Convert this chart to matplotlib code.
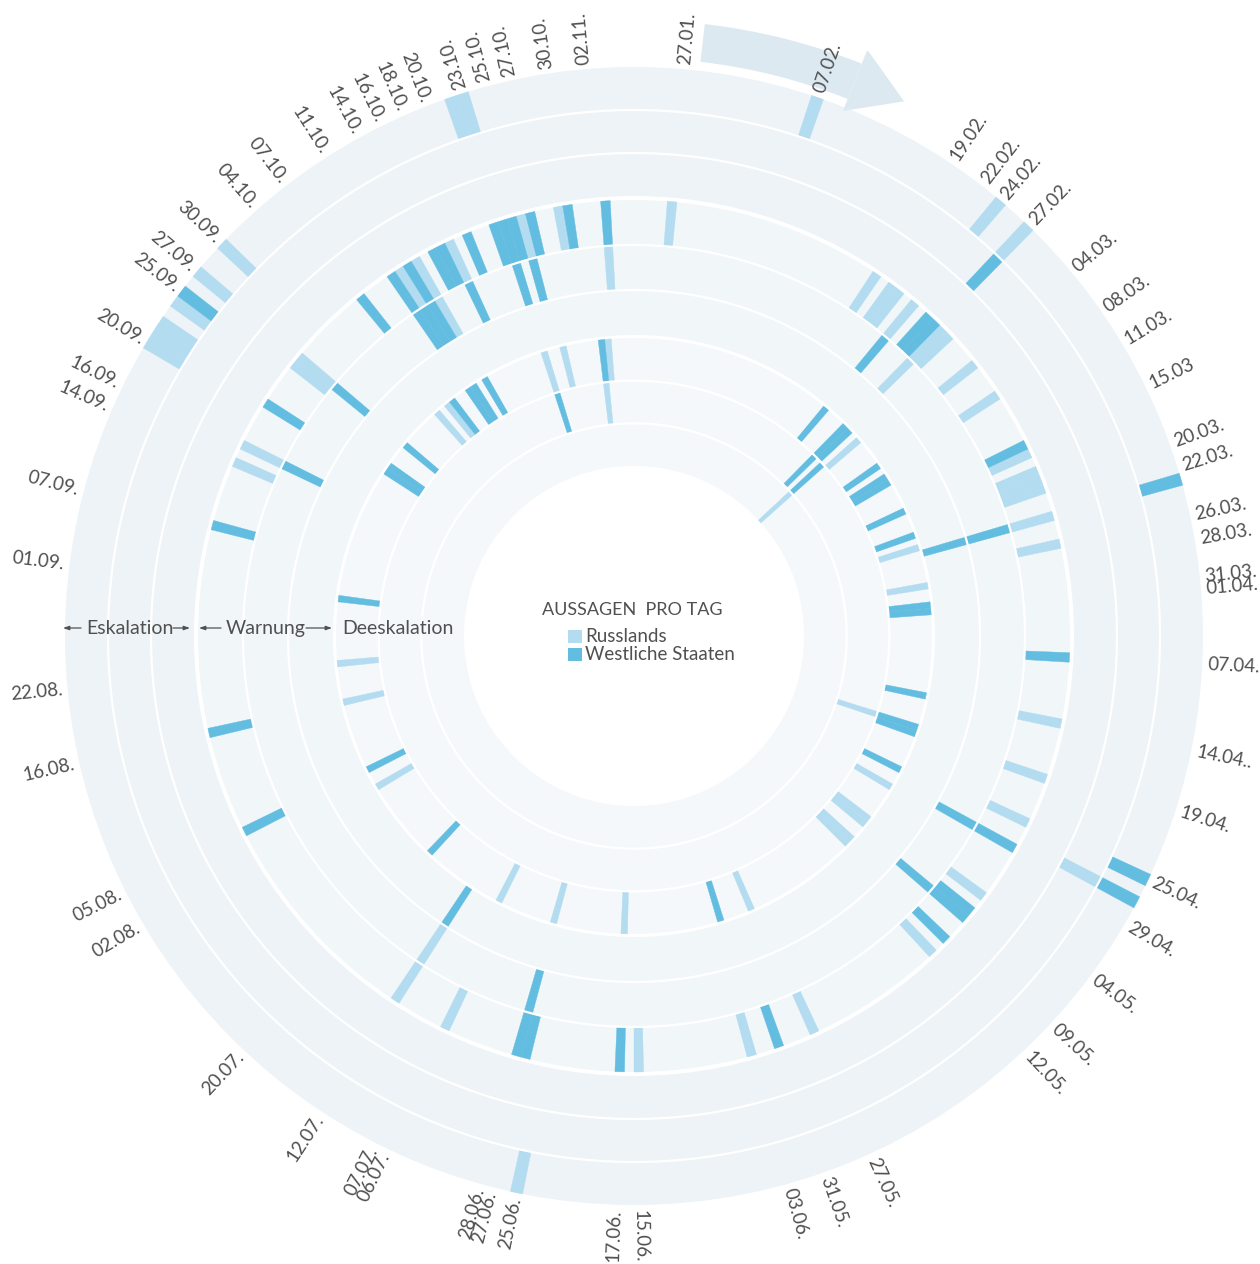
"""
Radial timeline: statements per day by Russia and Western states,
sorted into the rings Eskalation / Warnung / Deeskalation.
Output: out.png
"""
from datetime import datetime

import numpy as np
import matplotlib
matplotlib.use("Agg")
import matplotlib.pyplot as plt
from matplotlib.patches import Rectangle


# ── Data: one list per ring, stack slot (1 = outermost) and speaker ──────────

esk1_ru = ["07.02", "24.02", "27.02", "25.06", "20.09", "21.09", "22.09",
           "24.09", "27.09", "30.09", "22.10", "23.10"]
esk1_we = ["23.03", "25.04", "27.04", "25.09"]
esk2_ru = ["27.04"]
esk2_we = ["27.02"]

warn1_ru = ["27.01", "19.02", "21.02", "22.02", "24.02", "28.02", "01.03",
            "05.03", "09.03", "16.03", "18.03", "19.03", "20.03", "23.03",
            "26.03", "14.04", "20.04", "25.04", "04.05", "12.05", "27.05",
            "03.06", "15.06", "06.07", "12.07", "14.09", "16.09", "26.09",
            "27.09", "11.10", "13.10", "17.10", "25.10", "29.10"]
warn1_we = ["26.02", "27.02", "15.03", "07.04", "28.04", "06.05", "07.05",
            "10.05", "31.05", "17.06", "27.06", "28.06", "05.08", "16.08",
            "07.09", "21.09", "06.10", "10.10", "12.10", "15.10", "16.10",
            "19.10", "22.10", "23.10", "24.10", "26.10", "30.10", "03.11"]
warn2_ru = ["28.02", "12.07", "13.10", "03.11"]
warn2_we = ["24.02", "23.03", "28.04", "07.05", "28.06", "16.09", "27.09",
            "10.10", "11.10", "12.10", "17.10", "23.10", "25.10"]
warn3_we = ["23.03", "12.07"]

dees1_ru = ["03.03", "22.03", "28.03", "29.04", "05.05", "06.05", "09.05",
            "10.05", "28.05", "17.06", "28.06", "07.07", "02.08", "16.08",
            "22.08", "04.10", "06.10", "23.10", "26.10", "02.11"]
dees1_we = ["24.02", "28.02", "01.03", "08.03", "10.03", "11.03", "16.03",
            "20.03", "31.03", "01.04", "14.04", "19.04", "20.04", "26.04",
            "02.06", "20.07", "05.08", "01.09", "22.09", "23.09", "27.09",
            "07.10", "10.10", "11.10", "13.10", "01.11"]
dees2_ru = ["19.04", "01.11"]
dees2_we = ["28.02", "02.03", "23.10"]
dees3_ru = ["02.03"]

date_labels = [
    "27.01.", "07.02.", "19.02.", "22.02.", "24.02.", "27.02.", "04.03.",
    "08.03.", "11.03.", "15.03", "20.03.", "22.03.", "26.03.", "28.03.",
    "31.03.", "01.04.", "07.04.", "14.04..", "19.04.", "25.04.", "29.04.",
    "04.05.", "09.05.", "12.05.", "27.05.", "31.05.", "03.06.", "15.06.",
    "17.06.", "25.06.", "27.06.", "28.06.", "06.07.", "07.07.", "12.07.",
    "20.07.", "02.08.", "05.08.", "16.08.", "22.08.", "01.09.", "07.09.",
    "14.09.", "16.09.", "20.09.", "25.09.", "27.09.", "30.09.", "04.10.",
    "07.10.", "11.10.", "14.10.", "16.10.", "18.10.", "20.10.", "23.10.",
    "25.10.", "27.10.", "30.10.", "02.11.",
]

band_names = ["Eskalation", "Warnung", "Deeskalation"]


# ── Style / layout ───────────────────────────────────────────────────────────

FONT = ["Lato", "DejaVu Sans"]
TEXT = "#505050"
RU_COLOR = "#b3dcf0"
WE_COLOR = "#62bde0"
RING_BG = ["#edf3f6", "#f1f6f9", "#f5f8fa"]
ARROW = "#dce9f1"

START_DOY = 23          # 23.01. sits at 12 o'clock
DAYS_ON_CIRCLE = 287
DAY = 2 * np.pi / DAYS_ON_CIRCLE

BAND_OUTER = [569, 436, 298]
BAND_INNER = [440, 301, 170]

W, H = 1260, 1264
CX, CY = 634, 636       # centre of the rings in image pixels
RMAX = 630


def doy(s):
    return datetime.strptime(s[:5] + ".2022", "%d.%m.%Y").timetuple().tm_yday


def angle_deg(s):
    return (doy(s) - START_DOY) * 360 / DAYS_ON_CIRCLE


def slot_span(band, slot):
    h = (BAND_OUTER[band] - BAND_INNER[band]) / 3
    top = BAND_OUTER[band] - (slot - 1) * h
    return top - h, h


def draw_marks(ax, dates, band, slot, color):
    bottom, h = slot_span(band, slot)
    th = [np.deg2rad(angle_deg(d)) for d in dates]
    ax.bar(th, h, width=DAY, bottom=bottom, color=color,
           edgecolor=color, linewidth=0.3, zorder=3)


# ── Figure ───────────────────────────────────────────────────────────────────

fig = plt.figure(figsize=(W / 100, H / 100), dpi=100)
ax = fig.add_axes([(CX - RMAX) / W, (H - CY - RMAX) / H, 2 * RMAX / W, 2 * RMAX / H],
                  projection="polar")
ax.set_theta_zero_location("N")
ax.set_theta_direction(-1)
ax.set_ylim(0, RMAX)
ax.set_axis_off()

# ring backgrounds and thin separators
circle = np.linspace(0, 2 * np.pi, 600)
for b in range(3):
    ax.bar(0, BAND_OUTER[b] - BAND_INNER[b], width=2 * np.pi,
           bottom=BAND_INNER[b], color=RING_BG[b], linewidth=0, zorder=1)
for b in range(3):
    h = (BAND_OUTER[b] - BAND_INNER[b]) / 3
    for k in (1, 2):
        ax.plot(circle, np.full_like(circle, BAND_OUTER[b] - k * h),
                color="white", lw=1.6, zorder=4)

# statements
draw_marks(ax, esk1_ru, 0, 1, RU_COLOR)
draw_marks(ax, esk1_we, 0, 1, WE_COLOR)
draw_marks(ax, esk2_ru, 0, 2, RU_COLOR)
draw_marks(ax, esk2_we, 0, 2, WE_COLOR)
draw_marks(ax, warn1_ru, 1, 1, RU_COLOR)
draw_marks(ax, warn1_we, 1, 1, WE_COLOR)
draw_marks(ax, warn2_ru, 1, 2, RU_COLOR)
draw_marks(ax, warn2_we, 1, 2, WE_COLOR)
draw_marks(ax, warn3_we, 1, 3, WE_COLOR)
draw_marks(ax, dees1_ru, 2, 1, RU_COLOR)
draw_marks(ax, dees1_we, 2, 1, WE_COLOR)
draw_marks(ax, dees2_ru, 2, 2, RU_COLOR)
draw_marks(ax, dees2_we, 2, 2, WE_COLOR)
draw_marks(ax, dees3_ru, 2, 3, RU_COLOR)

# time direction arrow at the top
a0, a1, tip = np.deg2rad([6.6, 21.7, 26.8])
ax.bar((a0 + a1) / 2, 38, width=a1 - a0, bottom=578, color=ARROW,
       linewidth=0, zorder=2)
ax.fill([a1, a1, tip], [565, 631, 599], color=ARROW, linewidth=0, zorder=2)

# date labels, read outward except on most of the left half
for lab in date_labels:
    th = angle_deg(lab)
    flip = 180 < th < 340
    ax.text(np.deg2rad(th), 574, lab, rotation=(270 - th) if flip else (90 - th),
            rotation_mode="anchor", ha="right" if flip else "left",
            va="center", fontsize=13.5, color=TEXT, family=FONT, zorder=5)

# ring names on the left horizontal
base_y = H - 634
for b, name in enumerate(band_names):
    mid = (BAND_OUTER[b] + BAND_INNER[b]) / 2
    x = CX - mid if b < 2 else CX - BAND_OUTER[b] + 6
    fig.text(x / W, base_y / H, name, ha="center" if b < 2 else "left",
             va="baseline", fontsize=14, color=TEXT, family=FONT)

arrow_kw = dict(arrowstyle="-|>,head_length=0.35,head_width=0.12",
                color=TEXT, lw=0.9, shrinkA=0, shrinkB=0)
y_arr = H - 628
for x0, x1 in [(81, 63), (173, 190), (221, 199), (306, 332)]:
    ax.annotate("", xy=(x1, y_arr), xytext=(x0, y_arr),
                xycoords="figure pixels", textcoords="figure pixels",
                arrowprops=arrow_kw)

# centre legend
fig.text(542 / W, (H - 615) / H, "AUSSAGEN  PRO TAG", ha="left", va="baseline",
         fontsize=13, color=TEXT, family=FONT)
for i, (name, col) in enumerate([("Russlands", RU_COLOR),
                                 ("Westliche Staaten", WE_COLOR)]):
    y_top = 630 + i * 18
    fig.add_artist(Rectangle((568 / W, (H - y_top - 13) / H), 14 / W, 13 / H,
                             transform=fig.transFigure, color=col, lw=0))
    fig.text(585 / W, (H - y_top - 12) / H, name, ha="left", va="baseline",
             fontsize=13.5, color=TEXT, family=FONT)

fig.savefig("out.png", dpi=100)
